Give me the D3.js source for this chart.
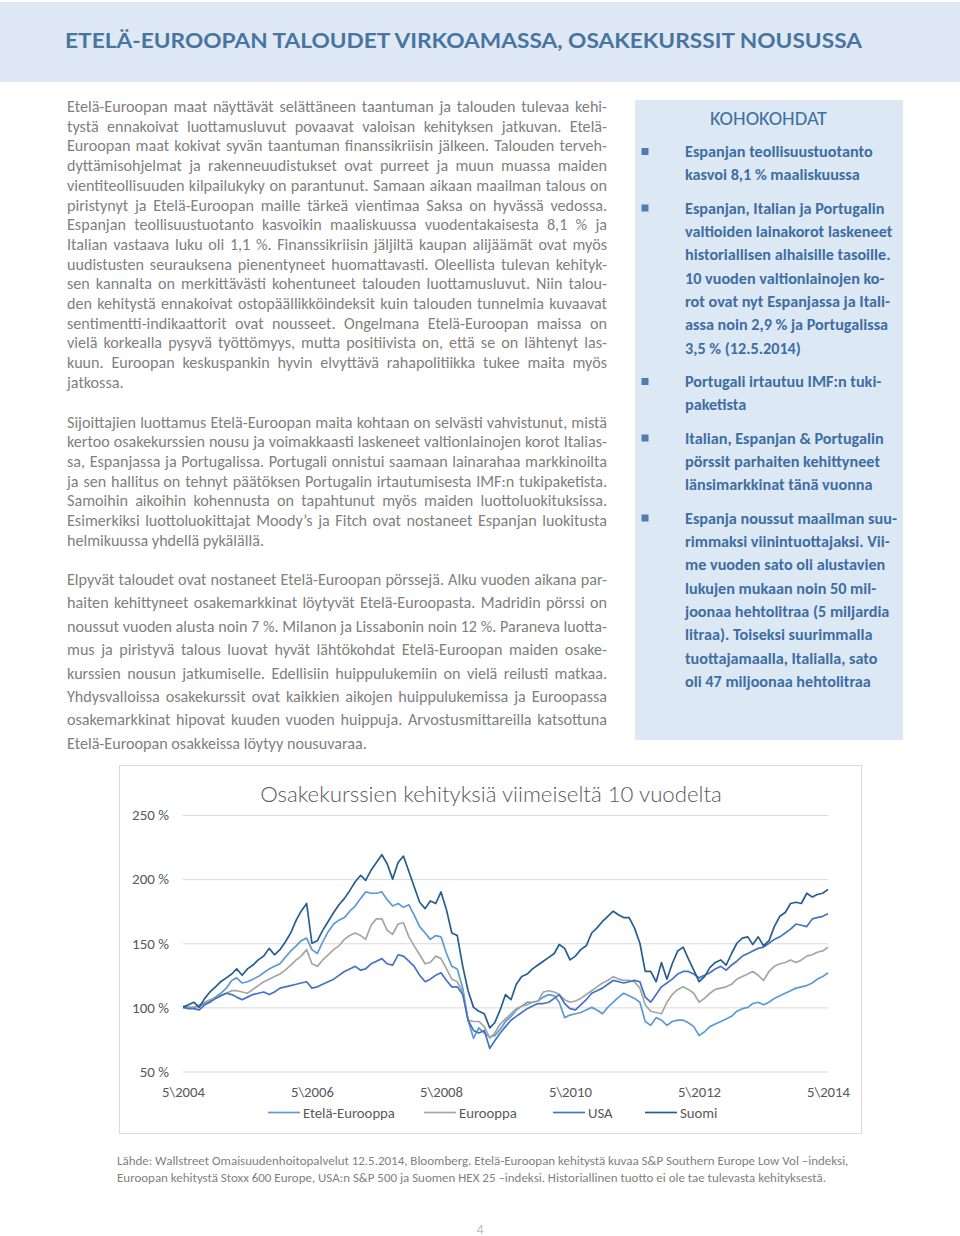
<!DOCTYPE html>
<html><head><meta charset="utf-8">
<script src="https://cdn.jsdelivr.net/npm/d3@7"></script>
<style>
html,body{margin:0;padding:0;background:#fff;}
svg{display:block;}
</style></head><body>
<svg id="page" width="960" height="1236"></svg>
<script>
// ================= DATA =================
const startMonth = "2004-05";
const seriesNames = ["Etelä-Eurooppa", "Eurooppa", "USA", "Suomi"];
const etelaEurooppa = [
101,100,100,101,103,105,108,111,115,121,
123,119,120,122,124,127,130,132,134,139,
144,148,152,154,145,142,151,159,165,168,
170,175,179,185,190,189,189,190,184,179,
181,178,180,172,163,158,153,156,155,142,
132,130,115,90,76,84,80,77,78,83,
89,93,98,101,104,104,105,108,110,109,
104,92,94,95,96,98,100,98,95,100,
104,108,111,109,107,104,89,86,92,90,
86,89,90,90,88,85,78,81,85,87,
89,91,93,97,99,100,103,104,102,104,
107,109,111,113,115,116,117,119,122,124,127];
const eurooppa = [
100,100,100,102,104,106,107,109,111,113,
113,112,111,114,117,120,122,124,126,129,
133,137,140,145,134,132,137,141,145,148,
153,156,158,156,153,164,169,169,160,157,
165,166,155,148,141,134,135,140,138,130,
122,120,112,90,89,89,85,76,80,87,
91,95,99,101,102,104,105,112,113,112,
110,106,104,105,107,110,113,116,119,121,
124,122,121,121,120,115,102,97,96,95,
104,110,114,116,114,111,104,107,111,114,
115,116,118,122,124,126,128,125,121,128,
132,134,135,137,135,137,140,141,143,144,147];
const usa = [
100,99,99,98,102,104,107,109,111,110,
108,106,108,110,111,112,110,112,115,116,
117,118,119,120,115,116,118,120,122,125,
128,130,132,129,130,134,136,138,134,133,
141,140,136,132,125,120,122,125,127,121,
116,116,110,90,82,80,82,68,74,80,
85,90,93,96,99,101,103,103,104,107,
110,103,99,98,102,106,111,113,115,118,
121,120,119,120,121,120,108,104,110,116,
119,122,126,128,128,126,123,125,127,130,
132,129,133,136,140,142,144,146,147,150,
153,155,158,161,165,164,163,169,170,171,173];
const suomi = [
100,102,104,100,107,112,116,120,123,126,
130,125,130,133,137,140,146,141,145,151,
158,168,175,181,150,152,160,167,174,180,
185,191,198,203,199,207,213,219,212,200,
213,218,206,194,182,177,183,181,190,176,
158,156,132,113,100,97,95,84,88,98,
110,106,118,124,126,130,133,136,139,142,
149,146,137,140,145,148,158,162,167,171,
175,172,170,170,162,150,128,128,120,135,
122,134,144,147,138,129,120,124,131,135,
137,133,142,150,154,155,149,155,148,152,
163,171,174,181,182,181,189,186,188,189,192];
const xTickDates = ["2004-05", "2006-05", "2008-05", "2010-05", "2012-05", "2014-05"];
const xTickLabels = ["5\\2004", "5\\2006", "5\\2008", "5\\2010", "5\\2012", "5\\2014"];
const yTicks = [50, 100, 150, 200, 250];
const seriesColors = ["#5b9bd5", "#a5a5a5", "#4472c4", "#255e91"];

// ================= TEXTS =================
const pageTitle = "ETELÄ-EUROOPAN TALOUDET VIRKOAMASSA, OSAKEKURSSIT NOUSUSSA";
const chartTitle = "Osakekurssien kehityksiä viimeiseltä 10 vuodelta";
const para1 = [
"Etelä-Euroopan maat näyttävät selättäneen taantuman ja talouden tulevaa kehi-",
"tystä ennakoivat luottamusluvut povaavat valoisan kehityksen jatkuvan. Etelä-",
"Euroopan maat kokivat syvän taantuman finanssikriisin jälkeen. Talouden terveh-",
"dyttämisohjelmat ja rakenneuudistukset ovat purreet ja muun muassa maiden",
"vientiteollisuuden kilpailukyky on parantunut. Samaan aikaan maailman talous on",
"piristynyt ja Etelä-Euroopan maille tärkeä vientimaa Saksa on hyvässä vedossa.",
"Espanjan teollisuustuotanto kasvoikin maaliskuussa vuodentakaisesta 8,1 % ja",
"Italian vastaava luku oli 1,1 %. Finanssikriisin jäljiltä kaupan alijäämät ovat myös",
"uudistusten seurauksena pienentyneet huomattavasti. Oleellista tulevan kehityk-",
"sen kannalta on merkittävästi kohentuneet talouden luottamusluvut. Niin talou-",
"den kehitystä ennakoivat ostopäällikköindeksit kuin talouden tunnelmia kuvaavat",
"sentimentti-indikaattorit ovat nousseet. Ongelmana Etelä-Euroopan maissa on",
"vielä korkealla pysyvä työttömyys, mutta positiivista on, että se on lähtenyt las-",
"kuun. Euroopan keskuspankin hyvin elvyttävä rahapolitiikka tukee maita myös",
"jatkossa."];
const para2 = [
"Sijoittajien luottamus Etelä-Euroopan maita kohtaan on selvästi vahvistunut, mistä",
"kertoo osakekurssien nousu ja voimakkaasti laskeneet valtionlainojen korot Italias-",
"sa, Espanjassa ja Portugalissa. Portugali onnistui saamaan lainarahaa markkinoilta",
"ja sen hallitus on tehnyt päätöksen Portugalin irtautumisesta IMF:n tukipaketista.",
"Samoihin aikoihin kohennusta on tapahtunut myös maiden luottoluokituksissa.",
"Esimerkiksi luottoluokittajat Moody’s ja Fitch ovat nostaneet Espanjan luokitusta",
"helmikuussa yhdellä pykälällä."];
const para3 = [
"Elpyvät taloudet ovat nostaneet Etelä-Euroopan pörssejä. Alku vuoden aikana par-",
"haiten kehittyneet osakemarkkinat löytyvät Etelä-Euroopasta. Madridin pörssi on",
"noussut vuoden alusta noin 7 %. Milanon ja Lissabonin noin 12 %. Paraneva luotta-",
"mus ja piristyvä talous luovat hyvät lähtökohdat Etelä-Euroopan maiden osake-",
"kurssien nousun jatkumiselle. Edellisiin huippulukemiin on vielä reilusti matkaa.",
"Yhdysvalloissa osakekurssit ovat kaikkien aikojen huippulukemissa ja Euroopassa",
"osakemarkkinat hipovat kuuden vuoden huippuja. Arvostusmittareilla katsottuna",
"Etelä-Euroopan osakkeissa löytyy nousuvaraa."];
const sideTitle = "KOHOKOHDAT";
const sideItems = [
["Espanjan teollisuustuotanto", "kasvoi 8,1 % maaliskuussa"],
["Espanjan, Italian ja Portugalin", "valtioiden lainakorot laskeneet", "historiallisen alhaisille tasoille.", "10 vuoden valtionlainojen ko-", "rot ovat nyt Espanjassa ja Itali-", "assa noin 2,9 % ja Portugalissa", "3,5 % (12.5.2014)"],
["Portugali irtautuu IMF:n tuki-", "paketista"],
["Italian, Espanjan & Portugalin", "pörssit parhaiten kehittyneet", "länsimarkkinat tänä vuonna"],
["Espanja noussut maailman suu-", "rimmaksi viinintuottajaksi. Vii-", "me vuoden sato oli alustavien", "lukujen mukaan noin 50 mil-", "joonaa hehtolitraa (5 miljardia", "litraa). Toiseksi suurimmalla", "tuottajamaalla, Italialla, sato", "oli 47 miljoonaa hehtolitraa"]];
const sourceLines = [
"Lähde: Wallstreet Omaisuudenhoitopalvelut 12.5.2014, Bloomberg. Etelä-Euroopan kehitystä kuvaa S&P Southern Europe Low Vol –indeksi,",
"Euroopan kehitystä Stoxx 600 Europe, USA:n S&P 500 ja Suomen HEX 25 –indeksi. Historiallinen tuotto ei ole tae tulevasta kehityksestä."];
const pageNumber = "4";

// ================= LAYOUT =================
const FONT = "Carlito, Calibri, Lato, 'Open Sans', sans-serif";
const svg = d3.select("#page");

function fitBlock(parent, lines, ys, o) {
  const t = parent.selectAll(null).data(lines).join("text")
    .attr("x", o.x).attr("y", (d, i) => ys[i])
    .attr("dominant-baseline", "central")
    .attr("text-anchor", o.anchor || "start")
    .style("font-family", o.family || FONT)
    .style("font-weight", o.weight || 400)
    .style("font-size", o.size + "px")
    .attr("fill", o.color)
    .text(d => d);
  const nat = t.nodes().map(n => n.getComputedTextLength());
  let sT = 0, sN = 0;
  lines.forEach((d, i) => { if (!o.justify || !o.justify[i]) { sT += o.targets[i]; sN += nat[i]; } });
  const fs = o.size * sT / sN;
  t.style("font-size", fs + "px");
  if (o.justify) t.each(function(d, i) {
    if (!o.justify[i]) return;
    const w = this.getComputedTextLength();
    const n = (d.match(/ /g) || []).length;
    if (n) d3.select(this).style("word-spacing", ((o.targets[i] - w) / n) + "px");
  });
  return t;
}
function fitOne(parent, str, x, y, target, o) {
  const t = parent.append("text").attr("x", x).attr("y", y)
    .attr("dominant-baseline", "central").attr("text-anchor", o.anchor || "start")
    .style("font-family", o.family || FONT).style("font-weight", o.weight || 400)
    .style("font-size", o.size + "px").attr("fill", o.color).text(str);
  const w = t.node().getComputedTextLength();
  t.style("font-size", (o.size * target / w) + "px");
  return t;
}

// header band
svg.append("rect").attr("x", 0).attr("y", 2).attr("width", 960).attr("height", 80).attr("fill", "#dfe9f5");
const ht = svg.append("text").attr("x", 65).attr("y", 40).attr("dominant-baseline", "central")
  .style("font-family", "Lato, 'Open Sans', sans-serif").style("font-weight", 700).style("font-size", "21.5px")
  .attr("fill", "#48749f").attr("textLength", 797).attr("lengthAdjust", "spacingAndGlyphs").text(pageTitle);

// body paragraphs
const bodyLines = para1.concat(para2, para3);
const ys1 = para1.map((d, i) => 106.5 + i * 19.7);
const ys2 = para2.map((d, i) => 422 + i * 19.7);
const ys3 = para3.map((d, i) => 579.5 + i * 23.4);
const bodyYs = ys1.concat(ys2, ys3);
const lastIdx = [para1.length - 1, para1.length + para2.length - 1, bodyLines.length - 1];
const lastW = [56, 197, 301];
const bodyTargets = bodyLines.map((d, i) => { const k = lastIdx.indexOf(i); return k >= 0 ? lastW[k] : 540; });
const bodyJust = bodyLines.map((d, i) => lastIdx.indexOf(i) < 0);
fitBlock(svg.append("g"), bodyLines, bodyYs, { x: 67, size: 15, color: "#808080", targets: bodyTargets, justify: bodyJust });

// sidebar
svg.append("rect").attr("x", 635).attr("y", 100).attr("width", 268).attr("height", 640).attr("fill", "#dde8f5");
fitOne(svg, sideTitle, 768.5, 117.5, 117, { size: 17, color: "#41709f", anchor: "middle" });
const sideStarts = [151.5, 208, 381.5, 438, 518];
const sideWidths = [[188, 175], [200, 208, 206, 200, 206, 202, 116], [196, 62], [199, 195, 187], [211, 205, 200, 190, 204, 188, 192, 186]];
const sLines = [], sYs = [], sT = [];
sideItems.forEach((item, k) => item.forEach((l, j) => { sLines.push(l); sYs.push(sideStarts[k] + j * 23.35); sT.push(sideWidths[k][j]); }));
fitBlock(svg.append("g"), sLines, sYs, { x: 685, size: 15, weight: 700, color: "#3d6ea3", targets: sT });
svg.append("g").selectAll("rect").data(sideStarts).join("rect")
  .attr("x", 641.5).attr("y", d => d - 3.5).attr("width", 7).attr("height", 7).attr("fill", "#4f7db0");

// chart box
svg.append("rect").attr("x", 119.5).attr("y", 765.5).attr("width", 742).attr("height", 368)
  .attr("fill", "#fff").attr("stroke", "#d9d9d9").attr("stroke-width", 1);
fitOne(svg, chartTitle, 491, 793, 462, { size: 22, color: "#595959", anchor: "middle", family: "Lato, sans-serif", weight: 300 });

const parseM = d3.timeParse("%Y-%m");
const t0 = parseM(startMonth);
const x = d3.scaleTime().domain([t0, parseM("2014-05")]).range([183, 828]);
const y = d3.scaleLinear().domain([50, 250]).range([1071.5, 815]);

const gy = svg.append("g").attr("transform", "translate(183,0)")
  .call(d3.axisLeft(y).tickValues(yTicks).tickSize(-(828 - 183)).tickPadding(14).tickFormat(d => d + " %"));
gy.select(".domain").remove();
gy.selectAll("line").attr("stroke", "#d9d9d9");
gy.selectAll("text").attr("fill", "#595959").style("font-family", FONT).style("font-size", "14px");

const gx = svg.append("g").attr("transform", "translate(0,1071.5)")
  .call(d3.axisBottom(x).tickValues(xTickDates.map(parseM)).tickSize(0).tickFormat((d, i) => xTickLabels[i]));
gx.select(".domain").remove();
gx.selectAll("text").attr("y", 20).attr("dy", "0.35em").attr("fill", "#595959")
  .style("font-family", FONT).style("font-size", "14px");

// fit axis font sizes to reference widths
(function() {
  const yt = gy.selectAll("text").nodes();
  const wy = yt[yt.length - 1].getComputedTextLength();
  gy.selectAll("text").style("font-size", (14 * 37 / wy) + "px");
  const xt = gx.selectAll("text").nodes();
  const wx = xt[0].getComputedTextLength();
  gx.selectAll("text").style("font-size", (14 * 43 / wx) + "px");
})();

const allSeries = [etelaEurooppa, eurooppa, usa, suomi];
const line = d3.line().x((d, i) => x(d3.timeMonth.offset(t0, i))).y(d => y(d)).curve(d3.curveLinear);
svg.append("g").selectAll("path").data(allSeries).join("path")
  .attr("d", d => line(d)).attr("fill", "none")
  .attr("stroke", (d, i) => seriesColors[i]).attr("stroke-width", 1.7).attr("stroke-linejoin", "round");

// legend
const lg = svg.append("g");
const lx = [268, 424, 553, 645];
seriesNames.forEach((n, i) => {
  lg.append("line").attr("x1", lx[i]).attr("x2", lx[i] + 32).attr("y1", 1112.5).attr("y2", 1112.5)
    .attr("stroke", seriesColors[i]).attr("stroke-width", 1.7);
  lg.append("text").attr("x", lx[i] + 35).attr("y", 1112.5).attr("dominant-baseline", "central")
    .style("font-family", FONT).style("font-size", gx.select("text").style("font-size")).attr("fill", "#595959").text(n);
});

// source
fitBlock(svg.append("g"), sourceLines, [1160.5, 1177.5], { x: 117, size: 11, color: "#7f7f7f", targets: [732, 710] });
svg.append("text").attr("x", 480).attr("y", 1229).attr("text-anchor", "middle").attr("dominant-baseline", "central")
  .style("font-family", FONT).style("font-size", "14px").attr("fill", "#bfbfbf").text(pageNumber);
</script>
</body></html>
